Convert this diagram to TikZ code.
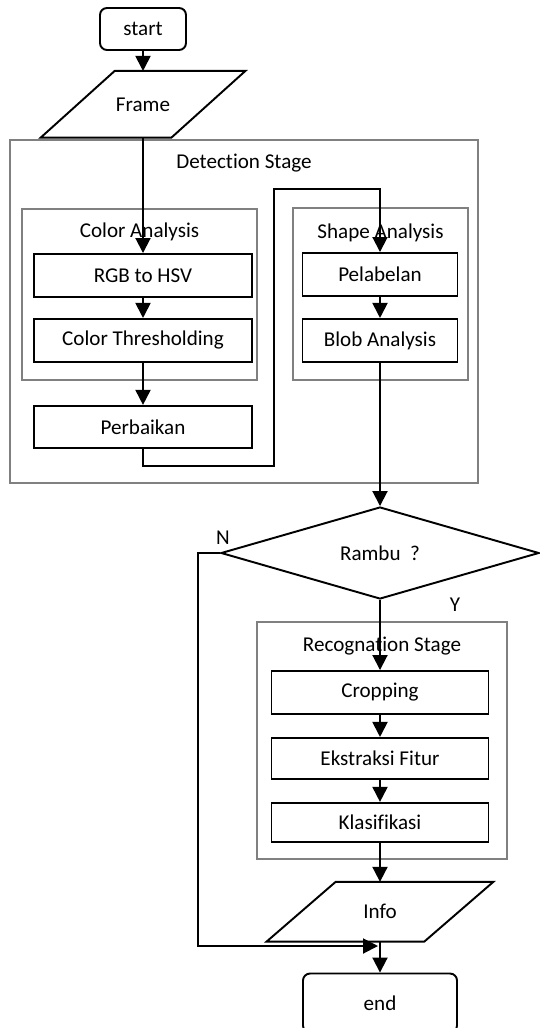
\documentclass[tikz,border=0pt]{standalone}
\usepackage{fontspec}
\setmainfont{Carlito}[Ligatures=NoCommon]
\usetikzlibrary{shapes.geometric,arrows.meta,positioning}

\begin{document}
\begin{tikzpicture}[x=0.2mm,y=-0.2mm,font=\fontsize{12}{14}\selectfont]
\tikzstyle{term}=[rectangle, rounded corners=1.4mm, draw=black, line width=1.1pt, inner sep=0pt]
\tikzstyle{proc}=[rectangle, draw=black, line width=1.1pt, minimum height=8.6mm, inner sep=0pt]
\tikzstyle{io}=[rectangle, inner sep=0pt]
\tikzstyle{ioline}=[draw=black, line width=1.1pt, line join=miter]
\tikzstyle{cond}=[diamond, aspect=3.46, draw=black, line width=1.1pt, minimum width=63.6mm, minimum height=18.4mm, inner sep=0pt]
\tikzstyle{stage}=[rectangle, draw=black!50, line width=1.1pt, inner sep=0pt]
\tikzstyle{connect}=[-{Triangle[width=3mm,length=3mm]}, line width=1.1pt]
  \useasboundingbox (0,0) rectangle (539,1028);
  % groups
  \node[stage, minimum width=93.6mm, minimum height=68.6mm] (detect) at (244,311.5)
       [label={[anchor=center,yshift=-4.8mm]north:Detection Stage}] {};
  \node[stage, minimum width=47mm, minimum height=34.2mm] (color) at (139.5,294.5)
       [label={[anchor=center,yshift=-4.8mm]north:Color Analysis}] {};
  \node[stage, minimum width=35mm, minimum height=34.4mm] (shape) at (380.5,294)
       [label={[anchor=center,yshift=-5.2mm]north:Shape Analysis}] {};
  \node[stage, minimum width=50mm, minimum height=47.4mm] (recog) at (382,740.5)
       [label={[anchor=center,yshift=-5mm]north:Recognation Stage}] {};
  % steps
  \node[term, minimum width=17.2mm, minimum height=8.4mm] (start) at (143,29) {start};
  \node[io, minimum width=26mm, minimum height=13.2mm] (frame) [below=4mm of start] {Frame};
  \draw[ioline] ([xshift=7.4mm]frame.north west) -- ([xshift=7.4mm]frame.north east)
        -- ([xshift=-7.4mm]frame.south east) -- ([xshift=-7.4mm]frame.south west) -- cycle;
  \node[proc, minimum width=43.6mm] (rgb) at (143,275.5) {RGB to HSV};
  \node[proc, minimum width=43.6mm] (thresh) [below=4mm of rgb] {Color Thresholding};
  \node[proc, minimum width=43.6mm, minimum height=8.4mm] (perb) [below=8.4mm of thresh] {Perbaikan};
  \node[proc, minimum width=31mm] (pelab) at (380,274.5) {Pelabelan};
  \node[proc, minimum width=31mm] (blob) [below=4.2mm of pelab] {Blob Analysis};
  \node[cond] (rambu) at (380,553) {Rambu\ \ ?};
  \node[proc, minimum width=43.4mm] (crop) at (380,692.5) {Cropping};
  \node[proc, minimum width=43.4mm, minimum height=8.2mm] (ekstr) [below=4.4mm of crop] {Ekstraksi Fitur};
  \node[proc, minimum width=43.4mm, minimum height=7.8mm] (klas) [below=4.4mm of ekstr] {Klasifikasi};
  \node[io, minimum width=31.4mm, minimum height=11.8mm] (info) [below=7.8mm of klas] {Info};
  \draw[ioline] ([xshift=6.9mm]info.north west) -- ([xshift=6.9mm]info.north east)
        -- ([xshift=-6.9mm]info.south east) -- ([xshift=-6.9mm]info.south west) -- cycle;
  \node[term, minimum width=30.8mm, minimum height=11.8mm] (end) [below=6.2mm of info] {end};
  \node (nlab) at (223,538) {N};
  \node (ylab) at (455,605) {Y};
  \coordinate (r1) at (274,466);
  \coordinate (r2) at (274,189);
  \coordinate (nend) at (378,946);
  % arrows
  \path (start) edge [connect] (frame)
        (frame) edge [connect] (rgb)
        (rgb) edge [connect] (thresh)
        (thresh) edge [connect] (perb)
        (pelab) edge [connect] (blob)
        (blob) edge [connect] (rambu)
        (rambu) edge [connect] (crop)
        (crop) edge [connect] (ekstr)
        (ekstr) edge [connect] (klas)
        (klas) edge [connect] (info)
        (info) edge [connect] (end);
  \draw[connect] (perb.south) |- (r1) -- (r2) -| (pelab.north);
  \draw[connect] (rambu.west) -- ++(-22,0) |- (nend);
\end{tikzpicture}
\end{document}
